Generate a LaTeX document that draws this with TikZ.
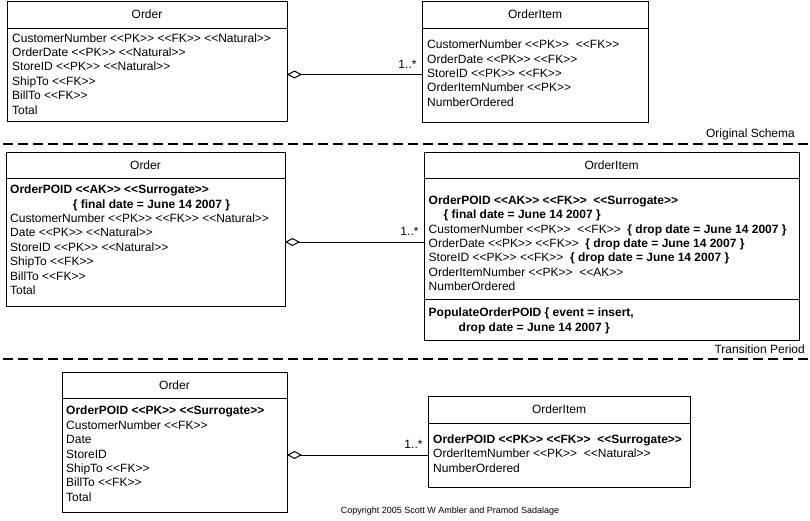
\documentclass[tikz,border=0pt]{standalone}
\usepackage{fontspec}
\setmainfont{Liberation Sans}
\usetikzlibrary{positioning, arrows.meta}

\newcommand{\umlfont}{\fontsize{12}{14.4}\selectfont}
\newcommand{\stereo}[1]{<\kern0pt<#1>\kern0pt>}

\tikzstyle{classhead} = [rectangle, draw=black, line width=1pt, inner sep=0pt, outer sep=0pt, minimum height=27pt, text centered, font=\umlfont, anchor=north west]
\tikzstyle{classbody} = [rectangle, draw=black, line width=1pt, inner sep=0pt, outer sep=0pt]
\tikzstyle{attrs} = [anchor=north west, inner sep=0pt, align=left, font=\umlfont]
\tikzstyle{assoc} = [line width=1pt, {Diamond[open, length=15pt, width=8pt]}-]
\tikzstyle{mult} = [anchor=south east, inner xsep=5pt, inner ysep=6pt, font=\umlfont]
\tikzstyle{phase} = [line width=1.2pt, dash pattern=on 10pt off 5pt]
\tikzstyle{phaselabel} = [anchor=base east, inner sep=0pt, font=\umlfont]

\begin{document}
\begin{tikzpicture}[x=1pt, y=-1pt]
\useasboundingbox (0,0) rectangle (810,520);

% original schema
\node (o1h) [classhead, minimum width=280pt] at (7,1) {Order};
\node (o1b) [classbody, minimum width=280pt, minimum height=93pt, below=0pt of o1h] {};
\node (o1a) [attrs] at (12,33.3) {CustomerNumber \stereo{PK} \stereo{FK} \stereo{Natural}\\ OrderDate \stereo{PK} \stereo{Natural}\\ StoreID \stereo{PK} \stereo{Natural}\\ ShipTo \stereo{FK}\\ BillTo \stereo{FK}\\ Total};

\node (i1h) [classhead, minimum width=226pt] at (422,1) {OrderItem};
\node (i1b) [classbody, minimum width=226pt, minimum height=94pt, below=0pt of i1h] {};
\node (i1a) [attrs] at (427,39.8) {CustomerNumber \stereo{PK}~ \stereo{FK}\\ OrderDate \stereo{PK} \stereo{FK}\\ StoreID \stereo{PK} \stereo{FK}\\ OrderItemNumber \stereo{PK}\\ NumberOrdered};

\draw [assoc] (o1b.east) -- node (m1) [mult, pos=1] {1..*} (o1b.east -| i1b.west);

\draw [phase] (3,144) -- (810,144);
\node (p1) [phaselabel] at (795,137.5) {Original Schema};

% transition period
\node (o2h) [classhead, minimum width=279pt, minimum height=26pt] at (6,152) {Order};
\node (o2b) [classbody, minimum width=279pt, minimum height=128pt, below=0pt of o2h] {};
\node (o2a) [attrs] at (10,184.8) {\textbf{OrderPOID \stereo{AK} \stereo{Surrogate}}\\ \hspace*{62.7pt}\textbf{\{ final date = June 14 2007 \}}\\ CustomerNumber \stereo{PK} \stereo{FK} \stereo{Natural}\\ Date \stereo{PK} \stereo{Natural}\\ StoreID \stereo{PK} \stereo{Natural}\\ ShipTo \stereo{FK}\\ BillTo \stereo{FK}\\ Total};

\node (i2h) [classhead, minimum width=375pt, minimum height=26pt] at (424,152) {OrderItem};
\node (i2b) [classbody, minimum width=375pt, minimum height=121pt, below=0pt of i2h] {};
\node (i2o) [classbody, minimum width=375pt, minimum height=41pt, below=0pt of i2b] {};
\node (i2a) [attrs] at (428.5,195.3) {\textbf{OrderPOID \stereo{AK} \stereo{FK}~ \stereo{Surrogate}}\\ \hspace*{15pt}\textbf{\{ final date = June 14 2007 \}}\\ CustomerNumber \stereo{PK}~ \stereo{FK}~ \textbf{\{ drop date = June 14 2007 \}}\\ OrderDate \stereo{PK} \stereo{FK}~ \textbf{\{ drop date = June 14 2007 \}}\\ StoreID \stereo{PK} \stereo{FK}~ \textbf{\{ drop date = June 14 2007 \}}\\ OrderItemNumber \stereo{PK}~ \stereo{AK}\\ NumberOrdered};
\node (i2p) [attrs] at (428.5,308) {\textbf{PopulateOrderPOID \{ event = insert,}\\ \hspace*{30pt}\textbf{drop date = June 14 2007 \}}};

\draw [assoc] (o2b.east) -- node (m2) [mult, pos=1] {1..*} (o2b.east -| i2b.west);

\draw [phase] (3,359) -- (810,359);
\node (p2) [phaselabel] at (805,353.5) {Transition Period};

% final schema
\node (o3h) [classhead, minimum width=225pt, minimum height=26pt] at (62,372) {Order};
\node (o3b) [classbody, minimum width=225pt, minimum height=114pt, below=0pt of o3h] {};
\node (o3a) [attrs] at (66,406) {\textbf{OrderPOID \stereo{PK} \stereo{Surrogate}}\\ CustomerNumber \stereo{FK}\\ Date\\ StoreID\\ ShipTo \stereo{FK}\\ BillTo \stereo{FK}\\ Total};

\node (i3h) [classhead, minimum width=262pt] at (428,396) {OrderItem};
\node (i3b) [classbody, minimum width=262pt, minimum height=64pt, below=0pt of i3h] {};
\node (i3a) [attrs] at (433,434.6) {\textbf{OrderPOID \stereo{PK} \stereo{FK}~ \stereo{Surrogate}}\\ OrderItemNumber \stereo{PK}~ \stereo{Natural}\\ NumberOrdered};

\draw [assoc] (o3b.east) -- node (m3) [mult, pos=1] {1..*} (o3b.east -| i3b.west);

\node (copy) [anchor=base, inner sep=0pt, font=\fontsize{9}{11}\selectfont] at (450,513) {Copyright 2005 Scott W Ambler and Pramod Sadalage};

\end{tikzpicture}
\end{document}
